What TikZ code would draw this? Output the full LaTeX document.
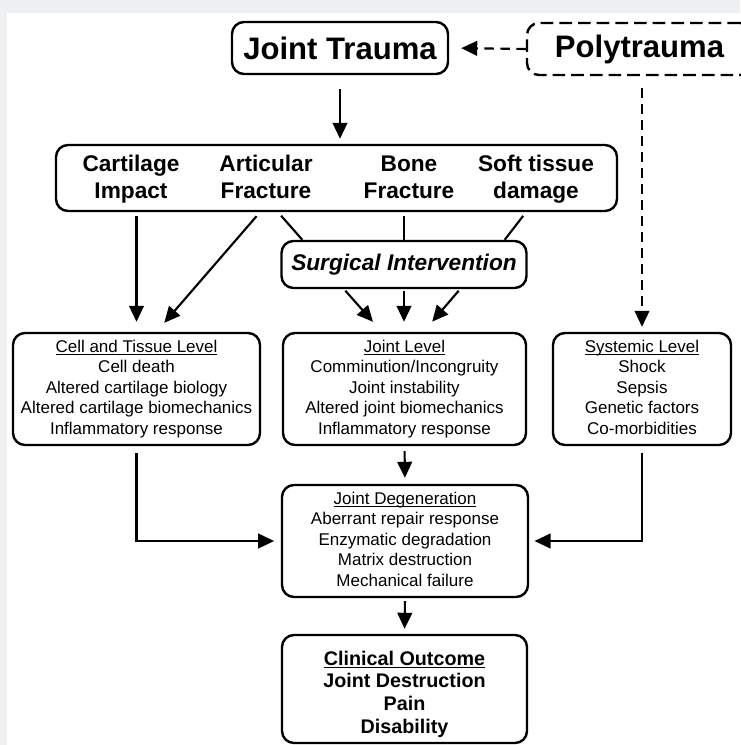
\documentclass[tikz,border=0pt]{standalone}
\usepackage{fontspec}
\setmainfont{Liberation Sans}
\usetikzlibrary{arrows.meta,positioning}
\definecolor{pagegray}{HTML}{EFF0F2}
\newcommand{\lvlfont}{\fontsize{12.75}{15.4}\selectfont}
\newcommand{\hd}[1]{\underline{\raisebox{0pt}[\height][0pt]{#1}}}

\begin{document}
\begin{tikzpicture}[x=0.75pt,y=-0.75pt,
  >={Triangle[length=12pt,width=11pt]},
  rbox/.style={draw,line width=1.8pt,rounded corners=9pt,inner sep=0pt,align=center},
  dbox/.style={rbox,dash pattern=on 9.5pt off 4.5pt},
  lbl/.style={align=center,inner sep=0pt,font=\fontsize{17}{20}\selectfont\bfseries},
  lvl/.style={rbox,minimum height=84pt,font=\lvlfont},
  arr/.style={->,line width=1.6pt},
  darr/.style={arr,dash pattern=on 7pt off 5pt}]
  \useasboundingbox (0,0) rectangle (740,745);
  \fill[pagegray] (0,0) rectangle (740,745);
  \fill[white] (7,13) rectangle (740,745);
% top row
  \node[rbox,minimum width=162pt,minimum height=39pt,font=\fontsize{23.3}{28}\selectfont\bfseries] (jt) at (340,48) {Joint Trauma};
  \node[dbox,minimum width=168.75pt,minimum height=39pt,font=\fontsize{23.3}{28}\selectfont\bfseries] (poly) at (639.5,49) {Polytrauma};
% injuries
  \node[rbox,minimum width=420.75pt,minimum height=49.5pt] (inj) at (336.5,178) {};
  \node[lbl] (cart) at (131,180) {Cartilage\strut\\Impact\strut};
  \node[lbl] (artic) at (266,180) {Articular\strut\\Fracture\strut};
  \node[lbl] (bone) at (409,180) {Bone\strut\\Fracture\strut};
  \node[lbl] (soft) at (536,180) {Soft tissue\strut\\damage\strut};
  \node[rbox,minimum width=183.75pt,minimum height=35.25pt,font=\fontsize{17}{20}\selectfont\bfseries\itshape] (surg) at (404,264.5) {Surgical Intervention};
% levels
  \node[lvl,minimum width=185.25pt] (cell) at (136.5,389) {\hd{Cell and Tissue Level}\\Cell death\\Altered cartilage biology\\Altered cartilage biomechanics\\Inflammatory response};
  \node[lvl,minimum width=182.25pt] (jl) at (404.5,389) {\hd{Joint Level}\\Comminution/Incongruity\\Joint instability\\Altered joint biomechanics\\Inflammatory response};
  \node[lvl,minimum width=133.5pt] (sys) at (642,389) {\hd{Systemic Level}\\Shock\\Sepsis\\Genetic factors\\Co-morbidities\vphantom{p}};
  \node[lvl,minimum width=184.5pt] (deg) at (405,541) {\hd{Joint Degeneration}\\Aberrant repair response\\Enzymatic degradation\\Matrix destruction\\Mechanical failure\vphantom{p}};
  \node[rbox,minimum width=183.75pt,minimum height=81pt] (clin) at (404.5,689) {};
  \node[align=center,inner sep=0pt,font=\fontsize{14.8}{17}\selectfont\bfseries] (clintxt) at (404.5,694) {\hd{Clinical Outcome}\\Joint Destruction\\Pain\\Disability};
% connectors
  \draw[darr,shorten >=9pt] (poly.west) -- (jt.east);
  \draw[arr,shorten <=10.5pt,shorten >=3.75pt] (jt.south) -- (jt.south |- inj.north);
  \draw[darr,shorten <=9pt,shorten >=3.75pt] (sys.north |- poly.south) -- (sys.north);
  \draw[arr,shorten <=3pt,shorten >=7.5pt] (cell.north |- inj.south) -- (cell.north);
  \draw[arr,shorten <=4pt,shorten >=8.9pt] ([xshift=-4.5pt]artic.south |- inj.south) -- ([xshift=15pt]cell.north);
  \draw[line width=1.6pt,shorten <=3.5pt] ([xshift=9pt]artic.south |- inj.south) -- ([xshift=16.5pt]surg.north west);
  \draw[line width=1.6pt,shorten <=3pt] (surg.north |- inj.south) -- (surg.north);
  \draw[line width=1.6pt,shorten <=3.5pt] ([xshift=-7.5pt]soft.south |- inj.south) -- ([xshift=-17.25pt]surg.north east);
  \draw[arr,shorten <=1.5pt,shorten >=10pt] ([xshift=-45pt]surg.south) -- ([xshift=-17pt]jl.north);
  \draw[arr,shorten <=1.5pt,shorten >=7.5pt] (surg.south) -- (surg.south |- jl.north);
  \draw[arr,shorten <=1.5pt,shorten >=10pt] ([xshift=42pt]surg.south) -- ([xshift=14.25pt]jl.north);
  \draw[arr,shorten <=3.75pt,shorten >=4.5pt] (jl.south) -- (deg.north);
  \draw[arr,shorten <=5pt] (cell.south) |- ([xshift=-5pt]deg.west);
  \draw[arr,shorten <=5pt] (sys.south) |- ([xshift=4pt]deg.east);
  \draw[arr,shorten <=2.25pt,shorten >=3.75pt] (deg.south) -- (clin.north);
\end{tikzpicture}
\end{document}
